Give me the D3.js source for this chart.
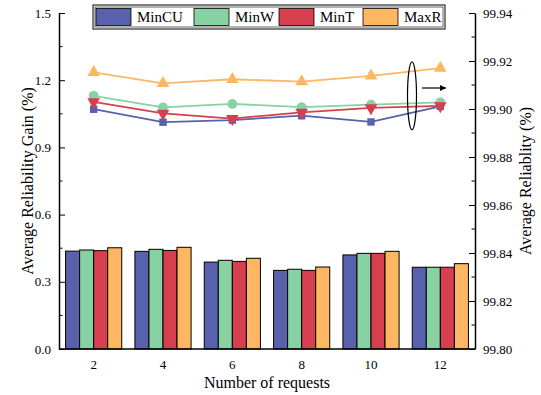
<!DOCTYPE html>
<html>
<head>
<meta charset="utf-8">
<script src="https://cdn.jsdelivr.net/npm/d3@7"></script>
<style>
body{margin:0;background:#fff;}
svg text{font-family:"Liberation Serif","Times New Roman",serif !important;fill:#000;}
</style>
</head>
<body>
<div id="chart"></div>
<script>
var WIDTH=541,
	HEIGHT=395;

var categories=["2","4","6","8","10","12"];
var seriesNames=["MinCU","MinW","MinT","MaxR"];
var colors=["#5861ac","#88d1a3","#d6404e","#fdb763"];

// bars: average reliability gain (%), left axis
var gainMinCU=[0.437,0.436,0.388,0.351,0.420,0.365],
	gainMinW=[0.442,0.445,0.396,0.356,0.427,0.365],
	gainMinT=[0.439,0.440,0.391,0.351,0.427,0.365],
	gainMaxR=[0.452,0.454,0.405,0.366,0.436,0.381];

// lines: average reliability (%), right axis
var relMinCU=[99.8999,99.8945,99.8954,99.8972,99.8946,99.9011],
	relMinW=[99.9055,99.9007,99.9021,99.9008,99.9018,99.9028],
	relMinT=[99.9030,99.8982,99.8960,99.8986,99.9005,99.9013],
	relMaxR=[99.9153,99.9107,99.9124,99.9114,99.9138,99.9170];

var leftTicks=[0.0,0.3,0.6,0.9,1.2,1.5],
	rightTicks=[99.80,99.82,99.84,99.86,99.88,99.90,99.92,99.94];

var gains=[gainMinCU,gainMinW,gainMinT,gainMaxR],
	rels=[relMinCU,relMinW,relMinT,relMaxR],
	markers=[d3.symbolSquare,d3.symbolCircle,"down",d3.symbolTriangle];

var L=59,R=475,T=13,B=349;
var FONT="Liberation Serif, Times New Roman, serif";

var svg=d3.select("#chart")
			.append("svg")
				.attr("width",WIDTH)
				.attr("height",HEIGHT)
				.attr("font-family",FONT);

var x=d3.scaleBand().domain(categories).range([L,R]).paddingInner(0.19).paddingOuter(0.095);
var xs=d3.scaleBand().domain(seriesNames).range([0,x.bandwidth()]);
var yl=d3.scaleLinear().domain([0,1.5]).range([B,T]);
var yr=d3.scaleLinear().domain([99.80,99.94]).range([B,T]);

// bars
var groups=svg.append("g").selectAll("g")
	.data(seriesNames)
	.enter().append("g")
		.attr("fill",function(d,i){return colors[i];});

groups.selectAll("rect")
	.data(function(d,i){
		return gains[i].map(function(v,j){return {s:d,c:categories[j],v:v};});
	})
	.enter().append("rect")
		.attr("x",function(d){return x(d.c)+xs(d.s);})
		.attr("width",xs.bandwidth())
		.attr("y",function(d){return yl(d.v);})
		.attr("height",function(d){return B-yl(d.v);})
		.attr("stroke","#000")
		.attr("stroke-width",1);

// lines
var line=d3.line()
	.x(function(d,j){return x(categories[j])+x.bandwidth()/2;})
	.y(function(d){return yr(d);});

svg.append("g").selectAll("path")
	.data(rels)
	.enter().append("path")
		.attr("d",line)
		.attr("fill","none")
		.attr("stroke",function(d,i){return colors[i];})
		.attr("stroke-width",1.8);

rels.forEach(function(series,i){
	var m=markers[i],
		sym=d3.symbol().type(m=="down"?d3.symbolTriangle:m).size(m==d3.symbolCircle?75:(m==d3.symbolSquare?55:70));
	svg.append("g").selectAll("path")
		.data(series)
		.enter().append("path")
			.attr("d",sym)
			.attr("fill",colors[i])
			.attr("transform",function(d,j){
				var px=x(categories[j])+x.bandwidth()/2;
				return "translate("+px+","+yr(d)+")"+(m=="down"?" rotate(180)":"");
			});
});

// axes
var leftAxis=svg.append("g").attr("transform","translate("+L+",0)")
	.call(d3.axisLeft(yl).tickValues(leftTicks).tickFormat(d3.format(".1f")).tickSizeInner(-6).tickSizeOuter(0).tickPadding(8));
leftAxis.append("g").selectAll("line")
	.data(d3.range(0.15,1.5,0.3))
	.enter().append("line")
		.attr("x1",0).attr("x2",3.5)
		.attr("y1",function(d){return yl(d);}).attr("y2",function(d){return yl(d);})
		.attr("stroke","#000");

var rightAxis=svg.append("g").attr("transform","translate("+R+",0)")
	.call(d3.axisRight(yr).tickValues(rightTicks).tickFormat(d3.format(".2f")).tickSizeInner(-6).tickSizeOuter(0).tickPadding(8));
rightAxis.append("g").selectAll("line")
	.data(d3.range(99.81,99.94,0.02))
	.enter().append("line")
		.attr("x1",0).attr("x2",-3.5)
		.attr("y1",function(d){return yr(d);}).attr("y2",function(d){return yr(d);})
		.attr("stroke","#000");

var bottomAxis=svg.append("g").attr("transform","translate(0,"+B+")")
	.call(d3.axisBottom(x).tickSize(0).tickPadding(11));
bottomAxis.select(".domain").attr("d","M"+L+",0H"+R);

[leftAxis,rightAxis,bottomAxis].forEach(function(a){
	a.attr("font-family",FONT).attr("font-size",13);
	a.select(".domain").attr("stroke-width",1.5);
});

// titles
svg.append("text")
	.attr("transform","translate(33,"+((T+B)/2)+") rotate(-90)")
	.attr("text-anchor","middle")
	.attr("font-size",16)
	.text("Average Reliability Gain (%)");

svg.append("text")
	.attr("transform","translate(531,"+((T+B)/2)+") rotate(-90)")
	.attr("text-anchor","middle")
	.attr("font-size",16)
	.text("Average Reliablity (%)");

svg.append("text")
	.attr("x",(L+R)/2)
	.attr("y",388)
	.attr("text-anchor","middle")
	.attr("font-size",16)
	.text("Number of requests");

// ellipse + arrow pointing to the right axis
svg.append("ellipse")
	.attr("cx",412).attr("cy",yr(99.9055))
	.attr("rx",4.5).attr("ry",34)
	.attr("fill","none").attr("stroke","#000").attr("stroke-width",1.2);

svg.append("defs").append("marker")
	.attr("id","arr").attr("viewBox","0 0 10 10")
	.attr("refX",10).attr("refY",5)
	.attr("markerWidth",8).attr("markerHeight",6)
	.attr("markerUnits","userSpaceOnUse")
	.attr("orient","auto")
	.append("path").attr("d","M0,0L10,5L0,10z").attr("fill","#000");

svg.append("line")
	.attr("x1",422).attr("x2",446)
	.attr("y1",88).attr("y2",88)
	.attr("stroke","#000").attr("stroke-width",1.2)
	.attr("marker-end","url(#arr)");

// legend
var legend=svg.append("g");
legend.append("rect")
	.attr("x",93).attr("y",5).attr("width",352).attr("height",24)
	.attr("fill","#fff").attr("stroke","#000").attr("stroke-width",1);
legend.append("rect")
	.attr("x",95).attr("y",7).attr("width",348).attr("height",20)
	.attr("fill","none").attr("stroke","#000").attr("stroke-width",0.6);

var legX=[96,194,279,363];
var items=legend.selectAll("g.item")
	.data(seriesNames)
	.enter().append("g")
		.attr("class","item")
		.attr("transform",function(d,i){return "translate("+legX[i]+",8.5)";});
items.append("rect")
	.attr("width",35).attr("height",17)
	.attr("fill",function(d,i){return colors[i];})
	.attr("stroke","#000").attr("stroke-width",0.8);
items.append("text")
	.attr("x",41).attr("y",13.5)
	.attr("font-size",15)
	.text(function(d){return d;});
</script>
</body>
</html>
